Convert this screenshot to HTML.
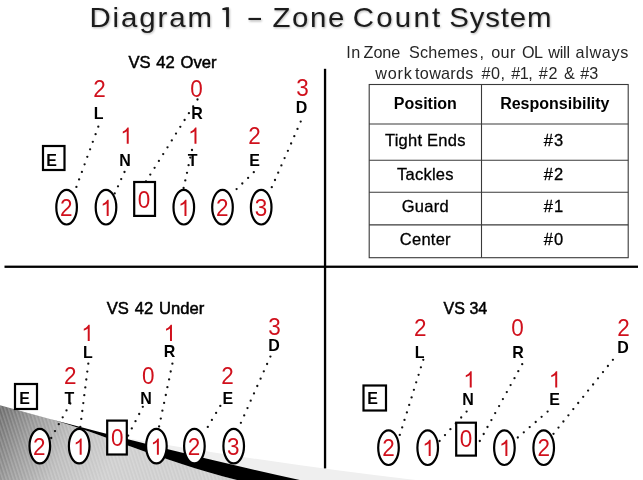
<!DOCTYPE html>
<html><head><meta charset="utf-8"><title>Diagram 1 - Zone Count System</title>
<style>
html,body{margin:0;padding:0;background:#fff;}
body{width:643px;height:480px;overflow:hidden;font-family:"Liberation Sans",sans-serif;}
svg{display:block;will-change:transform;}
text{font-family:"Liberation Sans",sans-serif;text-anchor:middle;}
.r{fill:#d0101c;}
.b{fill:#000;font-weight:bold;}
.h{fill:#000;font-size:16.6px;stroke:#000;stroke-width:0.5px;word-spacing:1.2px;}
.s{fill:#fff;stroke:#000;stroke-width:2.2;}
.t{font-size:27.2px;}
.p{font-size:16.2px;fill:#262626;text-anchor:start;}
.th{font-size:16px;font-weight:bold;fill:#000;}
.td{font-size:16.5px;fill:#000;letter-spacing:0.25px;stroke:#000;stroke-width:0.3px;}
</style></head><body>
<svg width="643" height="480" viewBox="0 0 643 480">

<defs>
<linearGradient id="gg" gradientUnits="userSpaceOnUse" x1="0" y1="410" x2="110" y2="465">
<stop offset="0" stop-color="#6e6e6e"/><stop offset="0.3" stop-color="#9a9a9a"/><stop offset="0.6" stop-color="#bcbcbc"/><stop offset="1" stop-color="#cecece"/>
</linearGradient>
<pattern id="st" width="3.4" height="3.4" patternUnits="userSpaceOnUse" patternTransform="rotate(-18)">
<rect x="0" y="0" width="1.5" height="3.4" fill="#ffffff" fill-opacity="0.18"/>
</pattern>
<filter id="ts" x="-5%" y="-20%" width="110%" height="150%"><feGaussianBlur stdDeviation="1.2"/></filter>
</defs>
<path d="M130,438.7 Q290,466 420,480.5 L200,480.5 Z" fill="#efefef"/>
<path id="gr" d="M0,405.3 Q25,412.25 50,419 C100,433 160,460.5 239,480.5 L0,480.5 Z" fill="url(#gg)"/>
<path d="M0,405.3 Q25,412.25 50,419 C100,433 160,460.5 239,480.5 L0,480.5 Z" fill="url(#st)"/>
<path d="M50,419 Q175,452.5 302,480.5 L239,480.5 C160,460.5 100,433 50,419 Z" fill="#000"/>

<rect x="4.5" y="265.6" width="633.5" height="2.3" fill="#000"/>
<rect x="323.9" y="68.8" width="2.3" height="399.6" fill="#000"/>
<g fill="#111"><circle cx="98.3" cy="126.7" r="1.15"/><circle cx="95.6" cy="134.2" r="1.15"/><circle cx="92.8" cy="141.8" r="1.15"/><circle cx="90.1" cy="149.3" r="1.15"/><circle cx="87.3" cy="156.8" r="1.15"/><circle cx="84.6" cy="164.3" r="1.15"/><circle cx="81.9" cy="171.9" r="1.15"/><circle cx="79.1" cy="179.4" r="1.15"/><circle cx="76.4" cy="186.9" r="1.15"/><circle cx="124.5" cy="172.0" r="1.15"/><circle cx="121.2" cy="179.1" r="1.15"/><circle cx="118.0" cy="186.3" r="1.15"/><circle cx="114.7" cy="193.4" r="1.15"/><circle cx="197.5" cy="99.5" r="1.15"/><circle cx="193.2" cy="106.3" r="1.15"/><circle cx="188.9" cy="113.2" r="1.15"/><circle cx="184.6" cy="120.0" r="1.15"/><circle cx="180.3" cy="126.8" r="1.15"/><circle cx="176.0" cy="133.6" r="1.15"/><circle cx="171.8" cy="140.4" r="1.15"/><circle cx="167.5" cy="147.3" r="1.15"/><circle cx="163.2" cy="154.1" r="1.15"/><circle cx="158.9" cy="160.9" r="1.15"/><circle cx="154.6" cy="167.8" r="1.15"/><circle cx="150.3" cy="174.6" r="1.15"/><circle cx="146.0" cy="181.4" r="1.15"/><circle cx="192.0" cy="150.0" r="1.15"/><circle cx="190.3" cy="157.6" r="1.15"/><circle cx="188.6" cy="165.2" r="1.15"/><circle cx="187.0" cy="172.8" r="1.15"/><circle cx="185.3" cy="180.4" r="1.15"/><circle cx="183.6" cy="188.0" r="1.15"/><circle cx="253.8" cy="172.2" r="1.15"/><circle cx="248.1" cy="177.9" r="1.15"/><circle cx="242.3" cy="183.5" r="1.15"/><circle cx="236.6" cy="189.1" r="1.15"/><circle cx="300.7" cy="121.6" r="1.15"/><circle cx="297.5" cy="128.9" r="1.15"/><circle cx="294.3" cy="136.2" r="1.15"/><circle cx="291.1" cy="143.5" r="1.15"/><circle cx="287.9" cy="150.8" r="1.15"/><circle cx="284.6" cy="158.1" r="1.15"/><circle cx="281.4" cy="165.4" r="1.15"/><circle cx="278.2" cy="172.7" r="1.15"/><circle cx="275.0" cy="180.0" r="1.15"/><circle cx="271.8" cy="187.2" r="1.15"/><circle cx="88.3" cy="363.7" r="1.15"/><circle cx="87.3" cy="371.6" r="1.15"/><circle cx="86.3" cy="379.5" r="1.15"/><circle cx="85.3" cy="387.4" r="1.15"/><circle cx="84.3" cy="395.2" r="1.15"/><circle cx="83.3" cy="403.1" r="1.15"/><circle cx="82.3" cy="411.0" r="1.15"/><circle cx="81.3" cy="418.9" r="1.15"/><circle cx="80.3" cy="426.8" r="1.15"/><circle cx="70.3" cy="403.5" r="1.15"/><circle cx="66.5" cy="410.4" r="1.15"/><circle cx="62.7" cy="417.3" r="1.15"/><circle cx="58.8" cy="424.2" r="1.15"/><circle cx="55.0" cy="431.1" r="1.15"/><circle cx="51.2" cy="438.0" r="1.15"/><circle cx="142.8" cy="406.8" r="1.15"/><circle cx="139.2" cy="414.0" r="1.15"/><circle cx="135.5" cy="421.2" r="1.15"/><circle cx="131.8" cy="428.4" r="1.15"/><circle cx="128.2" cy="435.6" r="1.15"/><circle cx="172.4" cy="363.7" r="1.15"/><circle cx="170.7" cy="371.5" r="1.15"/><circle cx="169.1" cy="379.4" r="1.15"/><circle cx="167.4" cy="387.2" r="1.15"/><circle cx="165.8" cy="395.0" r="1.15"/><circle cx="164.1" cy="402.9" r="1.15"/><circle cx="162.4" cy="410.7" r="1.15"/><circle cx="160.8" cy="418.6" r="1.15"/><circle cx="159.1" cy="426.4" r="1.15"/><circle cx="220.3" cy="405.9" r="1.15"/><circle cx="216.1" cy="412.9" r="1.15"/><circle cx="211.9" cy="419.9" r="1.15"/><circle cx="207.8" cy="426.9" r="1.15"/><circle cx="270.4" cy="356.6" r="1.15"/><circle cx="267.1" cy="364.0" r="1.15"/><circle cx="263.8" cy="371.3" r="1.15"/><circle cx="260.6" cy="378.7" r="1.15"/><circle cx="257.3" cy="386.0" r="1.15"/><circle cx="254.0" cy="393.4" r="1.15"/><circle cx="250.7" cy="400.7" r="1.15"/><circle cx="247.5" cy="408.1" r="1.15"/><circle cx="244.2" cy="415.4" r="1.15"/><circle cx="240.9" cy="422.8" r="1.15"/><circle cx="423.3" cy="359.8" r="1.15"/><circle cx="420.9" cy="367.3" r="1.15"/><circle cx="418.6" cy="374.8" r="1.15"/><circle cx="416.2" cy="382.3" r="1.15"/><circle cx="413.9" cy="389.8" r="1.15"/><circle cx="411.6" cy="397.4" r="1.15"/><circle cx="409.2" cy="404.9" r="1.15"/><circle cx="406.9" cy="412.4" r="1.15"/><circle cx="404.5" cy="419.9" r="1.15"/><circle cx="402.2" cy="427.4" r="1.15"/><circle cx="399.8" cy="434.9" r="1.15"/><circle cx="466.6" cy="411.6" r="1.15"/><circle cx="461.2" cy="417.5" r="1.15"/><circle cx="455.8" cy="423.4" r="1.15"/><circle cx="450.4" cy="429.2" r="1.15"/><circle cx="445.0" cy="435.1" r="1.15"/><circle cx="439.6" cy="441.0" r="1.15"/><circle cx="522.2" cy="364.2" r="1.15"/><circle cx="518.3" cy="371.2" r="1.15"/><circle cx="514.5" cy="378.2" r="1.15"/><circle cx="510.6" cy="385.1" r="1.15"/><circle cx="506.8" cy="392.1" r="1.15"/><circle cx="502.9" cy="399.1" r="1.15"/><circle cx="499.1" cy="406.1" r="1.15"/><circle cx="495.2" cy="413.1" r="1.15"/><circle cx="491.4" cy="420.1" r="1.15"/><circle cx="487.5" cy="427.0" r="1.15"/><circle cx="483.7" cy="434.0" r="1.15"/><circle cx="479.8" cy="441.0" r="1.15"/><circle cx="547.6" cy="411.6" r="1.15"/><circle cx="541.6" cy="416.8" r="1.15"/><circle cx="535.7" cy="422.0" r="1.15"/><circle cx="529.7" cy="427.1" r="1.15"/><circle cx="523.8" cy="432.3" r="1.15"/><circle cx="517.8" cy="437.5" r="1.15"/><circle cx="612.9" cy="359.8" r="1.15"/><circle cx="607.9" cy="366.0" r="1.15"/><circle cx="603.0" cy="372.1" r="1.15"/><circle cx="598.0" cy="378.3" r="1.15"/><circle cx="593.1" cy="384.5" r="1.15"/><circle cx="588.1" cy="390.6" r="1.15"/><circle cx="583.2" cy="396.8" r="1.15"/><circle cx="578.2" cy="403.0" r="1.15"/><circle cx="573.3" cy="409.1" r="1.15"/><circle cx="568.4" cy="415.3" r="1.15"/><circle cx="563.4" cy="421.5" r="1.15"/><circle cx="558.5" cy="427.6" r="1.15"/><circle cx="553.5" cy="433.8" r="1.15"/></g>
<text x="172.5" y="67.5" class="h">VS 42 Over</text>
<text transform="translate(99.4,97) scale(1,1.045)" class="r" font-size="22.5">2</text>
<text transform="translate(98.75,118.75) scale(1,1.04)" class="b" font-size="16.0">L</text>
<text transform="translate(196.5,96.5) scale(1,1.045)" class="r" font-size="22.5">0</text>
<text transform="translate(197,118.75) scale(1,1.04)" class="b" font-size="16.0">R</text>
<text transform="translate(302.5,95.5) scale(1,1.045)" class="r" font-size="22.5">3</text>
<text transform="translate(301.5,112.5) scale(1,1.04)" class="b" font-size="16.0">D</text>
<path d="M763 0H583V-1147Q518-1085 412.5-1023T223-930V-1104Q374-1175 487-1276T647-1472H763Z" fill="#d0101c" transform="translate(120.33,143.75) scale(0.01099)"/>
<text transform="translate(125,165.75) scale(1,1.04)" class="b" font-size="16.0">N</text>
<path d="M763 0H583V-1147Q518-1085 412.5-1023T223-930V-1104Q374-1175 487-1276T647-1472H763Z" fill="#d0101c" transform="translate(188.08,143.75) scale(0.01099)"/>
<text transform="translate(192.75,166) scale(1,1.04)" class="b" font-size="16.0">T</text>
<text transform="translate(254.6,143.75) scale(1,1.045)" class="r" font-size="22.5">2</text>
<text transform="translate(254.5,166) scale(1,1.04)" class="b" font-size="16.0">E</text>
<rect x="43" y="146" width="21.5" height="24" class="s"/>
<text transform="translate(51.6,165.75) scale(1,1.04)" class="b" font-size="16.0">E</text>
<ellipse cx="66.6" cy="207.2" rx="10.3" ry="17.3" class="s"/>
<text transform="translate(66.3,216) scale(1,1.045)" class="r" font-size="22.5">2</text>
<ellipse cx="106" cy="207.2" rx="10.3" ry="17.3" class="s"/>
<path d="M763 0H583V-1147Q518-1085 412.5-1023T223-930V-1104Q374-1175 487-1276T647-1472H763Z" fill="#d0101c" transform="translate(100.28,216) scale(0.01099)"/>
<ellipse cx="183.8" cy="207.2" rx="10.3" ry="17.3" class="s"/>
<path d="M763 0H583V-1147Q518-1085 412.5-1023T223-930V-1104Q374-1175 487-1276T647-1472H763Z" fill="#d0101c" transform="translate(178.08,216) scale(0.01099)"/>
<ellipse cx="222.5" cy="207.2" rx="10.3" ry="17.3" class="s"/>
<text transform="translate(222.2,216) scale(1,1.045)" class="r" font-size="22.5">2</text>
<ellipse cx="261.2" cy="207.2" rx="10.3" ry="17.3" class="s"/>
<text transform="translate(260.9,216) scale(1,1.045)" class="r" font-size="22.5">3</text>
<rect x="134.2" y="182" width="20.80000000000001" height="33.900000000000006" class="s"/>
<text transform="translate(144,207.5) scale(1,1.045)" class="r" font-size="22.5">0</text>
<text x="155.5" y="313.75" class="h">VS 42 Under</text>
<path d="M763 0H583V-1147Q518-1085 412.5-1023T223-930V-1104Q374-1175 487-1276T647-1472H763Z" fill="#d0101c" transform="translate(81.33,341) scale(0.01099)"/>
<text transform="translate(88,357.5) scale(1,1.04)" class="b" font-size="16.0">L</text>
<text transform="translate(70.25,384) scale(1,1.045)" class="r" font-size="22.5">2</text>
<text transform="translate(69.5,404) scale(1,1.04)" class="b" font-size="16.0">T</text>
<text transform="translate(148.25,383.5) scale(1,1.045)" class="r" font-size="22.5">0</text>
<text transform="translate(146,404) scale(1,1.04)" class="b" font-size="16.0">N</text>
<path d="M763 0H583V-1147Q518-1085 412.5-1023T223-930V-1104Q374-1175 487-1276T647-1472H763Z" fill="#d0101c" transform="translate(163.58,341) scale(0.01099)"/>
<text transform="translate(169.6,357) scale(1,1.04)" class="b" font-size="16.0">R</text>
<text transform="translate(227.5,383.5) scale(1,1.045)" class="r" font-size="22.5">2</text>
<text transform="translate(227.75,404) scale(1,1.04)" class="b" font-size="16.0">E</text>
<text transform="translate(274.4,334.5) scale(1,1.045)" class="r" font-size="22.5">3</text>
<text transform="translate(274,351) scale(1,1.04)" class="b" font-size="16.0">D</text>
<rect x="15" y="384" width="22" height="25" class="s"/>
<text transform="translate(24.7,403.6) scale(1,1.04)" class="b" font-size="16.0">E</text>
<ellipse cx="39.8" cy="446.1" rx="10.3" ry="17.3" class="s"/>
<text transform="translate(39.3,454.7) scale(1,1.045)" class="r" font-size="22.5">2</text>
<ellipse cx="79.2" cy="446.1" rx="10.3" ry="17.3" class="s"/>
<path d="M763 0H583V-1147Q518-1085 412.5-1023T223-930V-1104Q374-1175 487-1276T647-1472H763Z" fill="#d0101c" transform="translate(73.28,454.7) scale(0.01099)"/>
<ellipse cx="156.4" cy="446.1" rx="10.3" ry="17.3" class="s"/>
<path d="M763 0H583V-1147Q518-1085 412.5-1023T223-930V-1104Q374-1175 487-1276T647-1472H763Z" fill="#d0101c" transform="translate(150.48,454.7) scale(0.01099)"/>
<ellipse cx="194.4" cy="446.1" rx="10.3" ry="17.3" class="s"/>
<text transform="translate(193.9,454.7) scale(1,1.045)" class="r" font-size="22.5">2</text>
<ellipse cx="233.7" cy="446.1" rx="10.3" ry="17.3" class="s"/>
<text transform="translate(233.2,454.7) scale(1,1.045)" class="r" font-size="22.5">3</text>
<rect x="107.2" y="420.6" width="19.599999999999994" height="33.89999999999998" class="s"/>
<text transform="translate(117.3,446) scale(1,1.045)" class="r" font-size="22.5">0</text>
<text x="465.4" y="313.75" class="h" style="font-size:16px;word-spacing:0">VS 34</text>
<text transform="translate(420.25,336) scale(1,1.045)" class="r" font-size="22.5">2</text>
<text transform="translate(419.6,358) scale(1,1.04)" class="b" font-size="16.0">L</text>
<text transform="translate(517.4,336) scale(1,1.045)" class="r" font-size="22.5">0</text>
<text transform="translate(518,358) scale(1,1.04)" class="b" font-size="16.0">R</text>
<text transform="translate(623.5,336) scale(1,1.045)" class="r" font-size="22.5">2</text>
<text transform="translate(623,352.5) scale(1,1.04)" class="b" font-size="16.0">D</text>
<path d="M763 0H583V-1147Q518-1085 412.5-1023T223-930V-1104Q374-1175 487-1276T647-1472H763Z" fill="#d0101c" transform="translate(463.33,387.5) scale(0.01099)"/>
<text transform="translate(468,405) scale(1,1.04)" class="b" font-size="16.0">N</text>
<path d="M763 0H583V-1147Q518-1085 412.5-1023T223-930V-1104Q374-1175 487-1276T647-1472H763Z" fill="#d0101c" transform="translate(548.83,387.5) scale(0.01099)"/>
<text transform="translate(554.5,404.5) scale(1,1.04)" class="b" font-size="16.0">E</text>
<rect x="363.5" y="385.5" width="22.5" height="25.0" class="s"/>
<text transform="translate(372.7,404.3) scale(1,1.04)" class="b" font-size="16.0">E</text>
<ellipse cx="388.5" cy="447.7" rx="10.3" ry="17.3" class="s"/>
<text transform="translate(388.5,456) scale(1,1.045)" class="r" font-size="22.5">2</text>
<ellipse cx="427.7" cy="447.7" rx="10.3" ry="17.3" class="s"/>
<path d="M763 0H583V-1147Q518-1085 412.5-1023T223-930V-1104Q374-1175 487-1276T647-1472H763Z" fill="#d0101c" transform="translate(422.28,456) scale(0.01099)"/>
<ellipse cx="504.4" cy="447.7" rx="10.3" ry="17.3" class="s"/>
<path d="M763 0H583V-1147Q518-1085 412.5-1023T223-930V-1104Q374-1175 487-1276T647-1472H763Z" fill="#d0101c" transform="translate(498.98,456) scale(0.01099)"/>
<ellipse cx="543.7" cy="447.7" rx="10.3" ry="17.3" class="s"/>
<text transform="translate(543.7,456) scale(1,1.045)" class="r" font-size="22.5">2</text>
<rect x="456.2" y="422.7" width="19.69999999999999" height="32.900000000000034" class="s"/>
<text transform="translate(466,447) scale(1,1.045)" class="r" font-size="22.5">0</text>
<g filter="url(#ts)" transform="translate(0.8,1.4)" opacity="0.3"><g transform="scale(1.08,1)"><text x="82.84" y="27" class="t" style="text-anchor:start;letter-spacing:1.77px" fill="#000">Diagram</text><path d="M209.35 7.3H211.94V26.9H209.35V9.9H205.93V8.2Z" fill="#000"/><rect x="230.09" y="17.9" width="11.57" height="2.1" fill="#000"/><text x="252.38" y="27" class="t" style="text-anchor:start;letter-spacing:1.51px" fill="#000">Zone</text><text x="326.55" y="27" class="t" style="text-anchor:start;letter-spacing:2.12px" fill="#000">Count</text><text x="415.99" y="27" class="t" style="text-anchor:start;letter-spacing:0.78px" fill="#000">System</text></g></g>
<g transform="scale(1.08,1)"><text x="82.84" y="27" class="t" style="text-anchor:start;letter-spacing:1.77px" fill="#1c1c1c">Diagram</text><path d="M209.35 7.3H211.94V26.9H209.35V9.9H205.93V8.2Z" fill="#1c1c1c"/><rect x="230.09" y="17.9" width="11.57" height="2.1" fill="#1c1c1c"/><text x="252.38" y="27" class="t" style="text-anchor:start;letter-spacing:1.51px" fill="#1c1c1c">Zone</text><text x="326.55" y="27" class="t" style="text-anchor:start;letter-spacing:2.12px" fill="#1c1c1c">Count</text><text x="415.99" y="27" class="t" style="text-anchor:start;letter-spacing:0.78px" fill="#1c1c1c">System</text></g>
<text x="346.2" y="57.7" class="p" style="letter-spacing:0.6px">In</text><text x="363.59999999999997" y="57.7" class="p" style="letter-spacing:-0.1px">Zone</text><text x="408.9" y="57.7" class="p" style="letter-spacing:0.25px">Schemes</text><text x="479.4" y="57.7" class="p" style="letter-spacing:0px">,</text><text x="491.2" y="57.7" class="p" style="letter-spacing:0.4px">our</text><text x="521.9000000000001" y="57.7" class="p" style="letter-spacing:-0.5px">OL</text><text x="548.2" y="57.7" class="p" style="letter-spacing:-0.2px">will</text><text x="575.6" y="57.7" class="p" style="letter-spacing:0.64px">always</text>
<text x="375.2" y="79.0" class="p" style="letter-spacing:0.8px">work</text><text x="415.09999999999997" y="79.0" class="p" style="letter-spacing:0.27px">towards</text><text x="481.4" y="79.0" class="p" style="letter-spacing:0.5px">#0,</text><text x="511.2" y="79.0" class="p" style="letter-spacing:-0.5px">#1,</text><text x="538.7" y="79.0" class="p" style="letter-spacing:0.8px">#2</text><text x="563.9000000000001" y="79.0" class="p" style="letter-spacing:0px">&amp;</text><text x="580.2" y="79.0" class="p" style="letter-spacing:0.08px">#3</text>
<g stroke="#3a3a3a" stroke-width="1.1" fill="none"><rect x="369.2" y="84.5" width="259.00000000000006" height="173.2" fill="#fff"/><line x1="481.5" y1="84.5" x2="481.5" y2="257.7"/><line x1="369.2" y1="124" x2="628.2" y2="124"/><line x1="369.2" y1="160.3" x2="628.2" y2="160.3"/><line x1="369.2" y1="192.3" x2="628.2" y2="192.3"/><line x1="369.2" y1="224.9" x2="628.2" y2="224.9"/></g>
<text x="425.35" y="108.75" class="th">Position</text><text x="554.85" y="108.75" class="th">Responsibility</text>
<text x="425.35" y="145.5" class="td">Tight Ends</text><text x="554.0500000000001" y="145.5" class="td" style="letter-spacing:1px">#3</text>
<text x="425.35" y="179.8" class="td">Tackles</text><text x="554.0500000000001" y="179.8" class="td" style="letter-spacing:1px">#2</text>
<text x="425.35" y="212.4" class="td">Guard</text><text x="554.0500000000001" y="212.4" class="td" style="letter-spacing:1px">#1</text>
<text x="425.35" y="244.6" class="td">Center</text><text x="554.0500000000001" y="244.6" class="td" style="letter-spacing:1px">#0</text>
</svg>
</body></html>
